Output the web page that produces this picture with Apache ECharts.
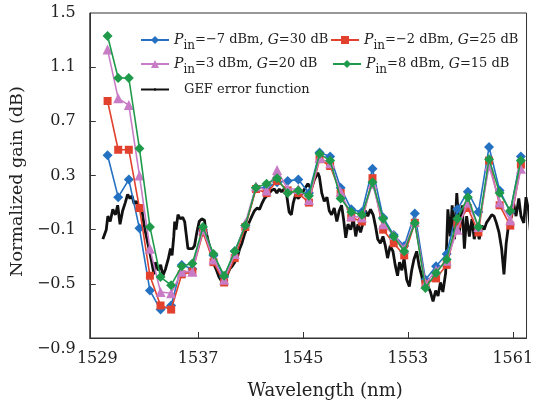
<!DOCTYPE html>
<html>
<head>
<meta charset="utf-8">
<script src="https://cdn.jsdelivr.net/npm/echarts@6/dist/echarts.min.js"></script>
<style>
  html, body { margin: 0; padding: 0; background: #fff; }
  #chart { width: 536px; height: 408px; }
</style>
</head>
<body>
<div id="chart"></div>
<script>
// channel wavelengths (nm) of the marked curves
const wavelengths = [1530.09, 1530.90, 1531.71, 1532.52, 1533.32, 1534.13, 1534.94, 1535.75, 1536.56, 1537.37,
  1538.17, 1538.98, 1539.79, 1540.60, 1541.41, 1542.22, 1543.02, 1543.83, 1544.64, 1545.45,
  1546.26, 1547.07, 1547.87, 1548.68, 1549.49, 1550.30, 1551.11, 1551.92, 1552.72, 1553.53,
  1554.34, 1555.15, 1555.96, 1556.77, 1557.57, 1558.38, 1559.19, 1560.00, 1560.81, 1561.62];

const gainPinM7 = [0.45, 0.14, 0.27, -0.09, -0.55, -0.69, -0.66, -0.36, -0.39, -0.10,
  -0.29, -0.45, -0.26, -0.07, 0.21, 0.21, 0.25, 0.26, 0.27, 0.17,
  0.47, 0.44, 0.21, 0.05, 0.03, 0.35, -0.01, -0.14, -0.22, 0.02,
  -0.47, -0.37, -0.28, 0.05, 0.18, 0.03, 0.51, 0.19, 0.03, 0.44];
const gainPinM2 = [0.85, 0.49, 0.49, 0.06, -0.44, -0.66, -0.69, -0.43, -0.41, -0.12,
  -0.34, -0.49, -0.31, -0.08, 0.20, 0.17, 0.26, 0.19, 0.17, 0.10,
  0.42, 0.37, 0.17, -0.01, -0.04, 0.28, -0.10, -0.20, -0.29, -0.05,
  -0.50, -0.46, -0.36, -0.06, 0.06, -0.12, 0.41, 0.08, -0.07, 0.38];
const gainPin3 = [1.23, 0.87, 0.82, 0.30, -0.24, -0.56, -0.57, -0.41, -0.41, -0.10,
  -0.32, -0.47, -0.28, -0.05, 0.22, 0.19, 0.34, 0.20, 0.20, 0.12,
  0.43, 0.39, 0.18, 0.00, -0.01, 0.24, -0.06, -0.14, -0.24, -0.04,
  -0.50, -0.40, -0.33, -0.10, 0.10, -0.08, 0.37, 0.10, -0.03, 0.35];
const gainPin8 = [1.33, 1.02, 1.02, 0.50, -0.08, -0.45, -0.51, -0.37, -0.35, -0.08,
  -0.28, -0.44, -0.26, -0.07, 0.21, 0.24, 0.28, 0.17, 0.19, 0.15,
  0.46, 0.41, 0.13, 0.03, 0.01, 0.25, -0.02, -0.15, -0.26, -0.05,
  -0.53, -0.42, -0.32, -0.02, 0.14, -0.08, 0.42, 0.17, 0.04, 0.41];

// GEF error function trace
const gefWavelength = [1529.73, 1529.99, 1530.11, 1530.29, 1530.49, 1530.69, 1530.86, 1531.04, 1531.24, 1531.44,
  1531.62, 1531.80, 1531.95, 1532.12, 1532.30, 1532.50, 1532.70, 1532.88, 1533.05, 1533.25,
  1533.46, 1533.63, 1533.76, 1533.95, 1534.14, 1534.31, 1534.51, 1534.71, 1534.89, 1535.01,
  1535.14, 1535.21, 1535.31, 1535.46, 1535.64, 1535.82, 1535.97, 1536.07, 1536.22, 1536.40,
  1536.57, 1536.72, 1536.90, 1537.08, 1537.27, 1537.48, 1537.57, 1537.73, 1537.91, 1538.08,
  1538.23, 1538.40, 1538.59, 1538.78, 1538.91, 1539.04, 1539.23, 1539.41, 1539.59, 1539.79,
  1539.97, 1540.17, 1540.34, 1540.55, 1540.74, 1540.92, 1541.10, 1541.30, 1541.50, 1541.68,
  1541.85, 1542.05, 1542.25, 1542.43, 1542.60, 1542.81, 1543.00, 1543.19, 1543.36, 1543.56,
  1543.76, 1543.94, 1544.11, 1544.26, 1544.44, 1544.62, 1544.81, 1545.12, 1545.37, 1545.62,
  1545.87, 1546.13, 1546.25, 1546.43, 1546.62, 1546.83, 1547.00, 1547.18, 1547.38, 1547.58,
  1547.76, 1547.94, 1548.09, 1548.26, 1548.43, 1548.64, 1548.84, 1549.02, 1549.19, 1549.39,
  1549.60, 1549.77, 1549.94, 1550.15, 1550.35, 1550.52, 1550.70, 1550.90, 1551.10, 1551.28,
  1551.45, 1551.65, 1551.86, 1552.03, 1552.21, 1552.36, 1552.54, 1552.71, 1552.91, 1553.11,
  1553.29, 1553.46, 1553.67, 1553.86, 1554.05, 1554.22, 1554.37, 1554.54, 1554.72, 1554.92,
  1555.12, 1555.30, 1555.48, 1555.67, 1555.88, 1556.05, 1556.23, 1556.38, 1556.56, 1556.73,
  1556.93, 1557.14, 1557.31, 1557.48, 1557.69, 1557.89, 1558.06, 1558.24, 1558.44, 1558.65,
  1558.82, 1558.99, 1559.20, 1559.40, 1559.57, 1559.75, 1559.95, 1560.15, 1560.33, 1560.50,
  1560.70, 1560.91, 1561.08, 1561.25, 1561.46, 1561.63, 1561.84, 1562.01, 1562.21, 1562.39,
  1562.59];
const gefValue = [-0.17, -0.10, 0.00, -0.04, 0.05, 0.01, 0.08, -0.06, 0.04, 0.10,
  0.16, 0.13, 0.15, 0.09, 0.11, 0.04, 0.05, -0.07, -0.15, -0.24,
  -0.34, -0.43, -0.34, -0.40, -0.36, -0.44, -0.39, -0.32, -0.24, -0.29,
  -0.15, -0.04, -0.10, 0.01, -0.02, -0.01, -0.04, -0.12, -0.24, -0.24,
  -0.24, -0.22, -0.12, -0.04, -0.02, -0.03, -0.10, -0.17, -0.24, -0.29,
  -0.36, -0.40, -0.45, -0.48, -0.51, -0.47, -0.43, -0.39, -0.37, -0.34,
  -0.31, -0.24, -0.20, -0.13, -0.08, -0.04, 0.00, 0.04, 0.06, 0.05,
  0.09, 0.13, 0.15, 0.17, 0.19, 0.20, 0.17, 0.20, 0.18, 0.20,
  0.15, 0.03, 0.01, 0.10, 0.16, 0.13, 0.15, 0.20, 0.24, 0.20,
  0.27, 0.32, 0.29, 0.17, 0.11, 0.14, 0.04, 0.01, 0.06, -0.04,
  0.04, 0.08, -0.02, -0.16, -0.06, -0.10, -0.02, -0.15, -0.06, -0.12,
  -0.04, 0.04, 0.00, 0.05, 0.01, -0.07, -0.17, -0.20, -0.15, -0.22,
  -0.31, -0.22, -0.26, -0.36, -0.44, -0.34, -0.40, -0.31, -0.47, -0.52,
  -0.40, -0.32, -0.26, -0.37, -0.44, -0.52, -0.45, -0.52, -0.56, -0.63,
  -0.55, -0.59, -0.49, -0.56, -0.42, 0.05, -0.15, 0.08, -0.17, 0.17,
  -0.12, 0.08, -0.24, 0.00, -0.15, -0.02, -0.17, -0.07, -0.17, -0.07,
  -0.10, -0.05, -0.02, 0.01, 0.00, -0.05, -0.12, -0.24, -0.43, -0.20,
  -0.05, 0.00, 0.09, 0.00, 0.13, 0.00, -0.05, 0.14, 0.04, -0.16,
  -0.01];

const xLabelValues = [1529, 1537, 1545, 1553, 1561];
const xTickValues = [1537, 1545, 1553, 1561];
const yLabelValues = [-0.9, -0.5, -0.1, 0.3, 0.7, 1.1, 1.5];
const yTickValues = [-0.5, -0.1, 0.3, 0.7, 1.1];

const seriesNames = ['Pin=-7 dBm, G=30 dB', 'Pin=-2 dBm, G=25 dB', 'Pin=3 dBm, G=20 dB', 'Pin=8 dBm, G=15 dB', 'GEF error function'];
const legendTexts = [
  '{p|P}{s|in}=−7 dBm, {p|G}=30 dB',
  '{p|P}{s|in}=−2 dBm, {p|G}=25 dB',
  '{p|P}{s|in}=3 dBm, {p|G}=20 dB',
  '{p|P}{s|in}=8 dBm, {p|G}=15 dB',
  'GEF error function'
];

const FONT = 'DejaVu Serif';

const pairs = (xs, ys) => xs.map((x, i) => [x, ys[i]]);

const chart = echarts.init(document.getElementById('chart'), null, { renderer: 'canvas' });

const legendStyle = {
  fontFamily: FONT,
  fontSize: 13,
  color: '#222',
  rich: {
    p: { fontFamily: FONT, fontSize: 14, fontStyle: 'italic', color: '#222' },
    s: { fontFamily: FONT, fontSize: 12, color: '#222', padding: [12, 0, 0, 0] }
  }
};

const makeLegend = (idx, left, top) => ({
  data: [seriesNames[idx]],
  left: left,
  top: top,
  itemWidth: 28,
  itemHeight: 10,
  itemGap: 0,
  padding: 0,
  textStyle: legendStyle,
  formatter: () => legendTexts[idx]
});

const markedSeries = (idx, data, color, symbol, size) => ({
  name: seriesNames[idx],
  type: 'line',
  data: pairs(wavelengths, data),
  symbol: symbol,
  symbolSize: size,
  showSymbol: true,
  lineStyle: { color: color, width: 1.6 },
  itemStyle: { color: color },
  z: 3 + idx
});

chart.setOption({
  animation: false,
  backgroundColor: '#fff',
  grid: {
    left: 86,
    right: 8,
    top: 13,
    bottom: 70,
    show: true,
    borderColor: '#333',
    borderWidth: 1
  },
  legend: [
    makeLegend(0, 140, 33),
    makeLegend(1, 330, 33),
    makeLegend(2, 140, 57),
    makeLegend(3, 332, 57),
    Object.assign(makeLegend(4, 140, 83), { itemHeight: 3, itemGap: 0, textStyle: Object.assign({}, legendStyle, { padding: [0, 0, 0, 10] }) })
  ],
  xAxis: {
    type: 'value',
    min: 1528.73,
    max: 1562.05,
    name: 'Wavelength (nm)',
    nameLocation: 'middle',
    nameGap: 44,
    nameTextStyle: { fontFamily: FONT, fontSize: 18, color: '#222', padding: [0, 0, 0, 34] },
    axisLine: { show: true, onZero: false, lineStyle: { color: '#333' } },
    axisTick: { show: true, inside: true, length: 6, customValues: xTickValues, lineStyle: { color: '#333' } },
    axisLabel: {
      customValues: xLabelValues,
      margin: 13,
      fontFamily: FONT,
      fontSize: 16,
      color: '#222',
      formatter: (v) => (v === 1529 ? '{first|' + v + '}' : String(v)),
      rich: { first: { fontFamily: FONT, fontSize: 16, color: '#222', padding: [0, 0, 0, 8] } }
    },
    splitLine: { show: false }
  },
  yAxis: {
    type: 'value',
    min: -0.9,
    max: 1.5,
    name: 'Normalized gain (dB)',
    nameLocation: 'middle',
    nameGap: 54,
    nameTextStyle: { fontFamily: FONT, fontSize: 17.5, color: '#222', padding: [0, 12, 0, 0] },
    axisLine: { show: true, onZero: false, lineStyle: { color: '#333' } },
    axisTick: { show: true, inside: true, length: 6, customValues: yTickValues, lineStyle: { color: '#333' } },
    axisLabel: {
      customValues: yLabelValues,
      margin: 14,
      fontFamily: FONT,
      fontSize: 16,
      color: '#222',
      formatter: (v) => {
        const s = v.toFixed(1).replace('-', '−');
        return v === -0.9 ? '{lo|' + s + '}' : s;
      },
      rich: { lo: { fontFamily: FONT, fontSize: 16, color: '#222', padding: [22, 0, 0, 0] } }
    },
    splitLine: { show: false }
  },
  series: [
    {
      name: seriesNames[4],
      type: 'line',
      data: pairs(gefWavelength, gefValue),
      showSymbol: false,
      symbol: 'none',
      clip: false,
      lineStyle: { color: '#111', width: 2.8 },
      itemStyle: { color: '#111' },
      z: 2
    },
    markedSeries(0, gainPinM7, '#2471c2', 'diamond', 10),
    markedSeries(1, gainPinM2, '#e2412e', 'rect', 8),
    markedSeries(2, gainPin3, '#c97cc6', 'triangle', 10),
    markedSeries(3, gainPin8, '#1f9a4b', 'diamond', 10)
  ]
});
</script>
</body>
</html>
